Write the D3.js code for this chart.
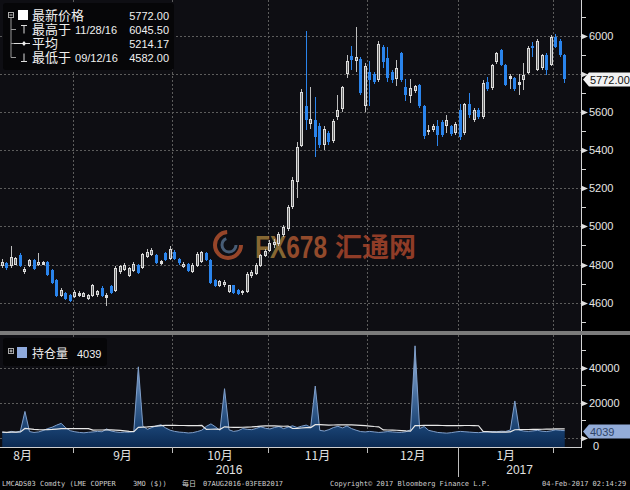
<!DOCTYPE html>
<html><head><meta charset="utf-8">
<script src="https://cdn.jsdelivr.net/npm/d3@7"></script>
<style>
html,body{margin:0;padding:0;background:#000;}
svg{display:block;}
</style></head><body>
<svg id="c" width="630" height="490"></svg>
<script>
// ---------- DATA ----------
const opens = [4790,4808,4790,4800,4850,4760,4790,4825,4795,4800,4815,4770,4720,4635,4650,4640,
 4632,4635,4632,4618,4635,4638,4675,4625,4685,4660,4760,4770,4740,4765,4800,4780,4840,4850,4850,4805,4860,4830,
 4868,4830,4785,4805,4760,4790,4815,4860,4825,4720,4685,4690,4655,4690,4665,4648,4655,4738,4750,4790,4845,
 4870,4900,4910,4955,4985,5100,5235,5420,5630,5540,5560,5530,5430,5490,5450,5575,5615,5800,5895,5870,5880,5630,
 5810,5800,5770,5940,5885,5810,5775,5910,5730,5685,5710,5745,5635,5495,5505,5530,5550,5525,5525,5490,
 5610,5490,5645,5560,5610,5575,5760,5725,5865,5925,5850,5775,5780,5745,5770,5805,5950,5820,5830,5900,5850,
 5995,5975,5900];
const highs = [4830,4812,4895,4840,4860,4785,4830,4830,4860,4820,4820,4775,4725,4675,4655,4645,
 4665,4660,4658,4645,4700,4668,4685,4650,4690,4790,4800,4810,4785,4812,4805,4862,4880,4885,4855,4825,4865,4895,
 4875,4835,4815,4810,4810,4865,4870,4865,4830,4725,4720,4720,4695,4695,4670,4668,4760,4770,4810,4855,4880,
 4930,4935,4970,5010,5110,5260,5445,5720,6025,5730,5680,5545,5530,5500,5565,5690,5740,5900,5950,6045.5,5890,5860,
 5870,5810,5975,5955,5940,5820,5875,5915,5775,5775,5745,5750,5640,5535,5540,5560,5560,5585,5535,5550,
 5645,5650,5700,5620,5620,5770,5785,5855,5915,5930,5855,5800,5785,5800,5860,5945,5970,5985,5905,5910,6005,
 6010,5985,5905];
const lows = [4780,4770,4780,4795,4785,4750,4785,4770,4790,4795,4740,4700,4630,4630,4612,4605,
 4625,4630,4628,4612,4630,4630,4630,4582,4645,4655,4750,4765,4735,4760,4750,4775,4835,4845,4805,4800,4820,4825,
 4825,4800,4780,4760,4755,4785,4810,4820,4700,4680,4680,4680,4650,4645,4640,4642,4650,4730,4745,4785,4840,
 4865,4885,4895,4945,4975,5090,5150,5415,5505,5510,5365,5410,5400,5430,5440,5560,5600,5780,5820,5810,5690,5600,
 5630,5750,5760,5830,5760,5755,5740,5760,5660,5650,5700,5620,5460,5480,5495,5420,5470,5490,5475,5480,
 5455,5480,5570,5550,5565,5565,5710,5715,5855,5840,5735,5720,5710,5690,5715,5800,5890,5815,5820,5795,5840,
 5935,5890,5755];
const closes = [4815,4782,4840,4832,4790,4778,4822,4775,4815,4812,4745,4705,4635,4665,4620,4610,
 4658,4650,4650,4640,4690,4660,4635,4640,4650,4780,4790,4800,4780,4805,4755,4855,4868,4875,4810,4818,4825,4880,
 4830,4810,4805,4765,4800,4855,4865,4825,4705,4685,4715,4710,4690,4650,4645,4662,4750,4762,4800,4850,4870,
 4915,4920,4960,4995,5100,5245,5415,5705,5560,5565,5470,5430,5510,5445,5555,5610,5730,5870,5875,5890,5700,5840,
 5770,5760,5960,5865,5780,5770,5830,5770,5690,5725,5735,5630,5475,5505,5530,5480,5480,5560,5485,5540,
 5470,5645,5585,5610,5575,5755,5720,5850,5910,5850,5745,5790,5720,5760,5795,5935,5935,5975,5900,5820,5995,
 5940,5900,5772];
const openInterest = [3200,2900,3600,3100,3800,15000,3500,3000,3300,4100,5200,6000,7200,8200,5600,4000,
 3400,3000,2800,3100,3300,3600,3400,5000,3800,3300,3000,3200,3100,3600,40500,6500,4800,5800,6800,7400,5600,4300,
 3600,3200,3000,2700,2900,3500,4300,6500,7900,6200,4200,28000,4500,3600,4000,5200,4800,4600,5300,6200,5400,
 5000,5800,6400,5200,6000,6800,5800,6600,7200,6000,29500,4200,3800,4600,5800,6500,5600,6700,5200,4300,3500,3300,
 3600,3300,3000,3200,3500,3300,3100,3000,3400,4500,52500,5200,6400,4200,3600,3000,2800,2600,2900,3300,
 3600,3400,3200,3000,2900,3100,3300,3500,3400,3700,3600,4400,21000,4300,3800,3600,3900,4200,3700,3500,3900,
 4500,4200,4039];
const monthStarts = [-6,16,38,59,81,101,122];
const monthLabels = ["8月","9月","10月","11月","12月","1月"];
const yearLabels = ["2016","2017"];
const yearStarts = [0,101];
const priceTicks = [4600,4800,5000,5200,5400,5600,5800,6000];
const oiTicks = [0,20000,40000];
const legendLabels = ["最新价格","最高于","平均","最低于"];
const legendDates = ["","11/28/16","","09/12/16"];
const legendValues = ["5772.00","6045.50","5214.17","4582.00"];
const oiLegend = ["持仓量","4039"];
const footer = ["LMCADS03 Comdty (LME COPPER","3MO ($))","每日","07AUG2016-03FEB2017","Copyright© 2017 Bloomberg Finance L.P.","04-Feb-2017 02:14:29"];

// ---------- LAYOUT ----------
const svg = d3.select("#c");
const plotR = 581, mainBot = 331, lowTop = 335, lowBot = 447;
const x = d3.scaleLinear().domain([0,125]).range([0,567]);
const y = d3.scaleLinear().domain([4451,6189]).range([mainBot,0]);
const y2 = d3.scaleLinear().domain([-5314,58686]).range([lowBot,lowTop]);
const cjk = "'Noto Sans CJK SC','Liberation Sans',sans-serif";
const sans = "'Liberation Sans','Noto Sans CJK SC',sans-serif";
const mono = "'DejaVu Sans Mono','Liberation Mono',monospace";

svg.append("rect").attr("width",630).attr("height",490).attr("fill","#000");
svg.append("rect").attr("x",0).attr("y",0).attr("width",plotR).attr("height",mainBot).attr("fill","#0e0e13");
svg.append("rect").attr("x",0).attr("y",lowTop).attr("width",plotR).attr("height",lowBot-lowTop).attr("fill","#0e0e13");

// grid
const grid = svg.append("g").attr("stroke","#5c5c5c").attr("stroke-dasharray","2,2").attr("stroke-width",1);
grid.selectAll("line.h").data(priceTicks).join("line")
  .attr("x1",0).attr("x2",plotR).attr("y1",d=>Math.round(y(d))+0.5).attr("y2",d=>Math.round(y(d))+0.5);
grid.selectAll("line.h2").data(oiTicks).join("line")
  .attr("x1",0).attr("x2",plotR).attr("y1",d=>Math.round(y2(d))+0.5).attr("y2",d=>Math.round(y2(d))+0.5);
grid.selectAll("line.v").data(monthStarts.slice(1)).join("line")
  .attr("x1",d=>Math.round(x(d))+0.5).attr("x2",d=>Math.round(x(d))+0.5).attr("y1",0).attr("y2",mainBot);
grid.selectAll("line.v2").data(monthStarts.slice(1)).join("line")
  .attr("x1",d=>Math.round(x(d))+0.5).attr("x2",d=>Math.round(x(d))+0.5).attr("y1",lowTop).attr("y2",lowBot);

// watermark
const wm = svg.append("g").attr("opacity",0.8);
wm.append("circle").attr("cx",228).attr("cy",245).attr("r",13).attr("fill","none")
  .attr("stroke","#b8532f").attr("stroke-width",4).attr("stroke-dasharray","60,22");
wm.append("circle").attr("cx",229).attr("cy",245).attr("r",7).attr("fill","none")
  .attr("stroke","#56708e").attr("stroke-width",3).attr("stroke-dasharray","30,14");
const wt = wm.append("text").attr("x",255).attr("y",258).attr("font-family",sans).attr("font-weight","bold")
  .attr("font-size",31).attr("textLength",72).attr("lengthAdjust","spacingAndGlyphs");
wt.append("tspan").attr("fill","#a47e3a").text("FX");
wt.append("tspan").attr("fill","#b45a32").text("678");
wm.append("text").attr("x",335).attr("y",257).attr("font-family",cjk).attr("font-weight","bold")
  .attr("font-size",27).attr("fill","#b0482c").text("汇通网");

// candles
const data = closes.map((c,i)=>({i,o:opens[i],h:highs[i],l:lows[i],c}));
const up = "#dcdcdc", down = "#2a84ec";
const cg = svg.append("g");
const cx = d=>Math.floor(x(d.i+0.5));
cg.selectAll("rect.w").data(data).join("rect")
  .attr("x",d=>cx(d)).attr("width",1)
  .attr("y",d=>Math.round(y(d.h))).attr("height",d=>Math.max(1,Math.round(y(d.l))-Math.round(y(d.h))))
  .attr("fill",d=>d.c>=d.o?"#bdbdbd":down);
cg.selectAll("rect.b").data(data).join("rect")
  .attr("x",d=>cx(d)-1).attr("width",3)
  .attr("y",d=>Math.round(y(Math.max(d.o,d.c))))
  .attr("height",d=>Math.max(1,Math.round(y(Math.min(d.o,d.c)))-Math.round(y(Math.max(d.o,d.c)))))
  .attr("fill",d=>d.c>=d.o?up:down);
cg.selectAll("rect.in").data(data.filter(d=>d.c>=d.o && (y(d.o)-y(d.c))>3)).join("rect")
  .attr("x",d=>cx(d)).attr("width",1)
  .attr("y",d=>Math.round(y(d.c))+1)
  .attr("height",d=>Math.round(y(d.o))-Math.round(y(d.c))-2)
  .attr("fill","#6a6a6a");

// open interest
const defs = svg.append("defs");
const lg = defs.append("linearGradient").attr("id","oig").attr("gradientUnits","userSpaceOnUse")
  .attr("x1",0).attr("x2",0).attr("y1",lowTop+8).attr("y2",lowBot);
lg.append("stop").attr("offset","0").attr("stop-color","#a9c3e8");
lg.append("stop").attr("offset","0.55").attr("stop-color","#3d6596");
lg.append("stop").attr("offset","0.85").attr("stop-color","#163d6c");
lg.append("stop").attr("offset","1").attr("stop-color","#0c2a52");
const oiData = openInterest.map((v,i)=>({i,v}));
svg.append("path").datum(oiData)
  .attr("d",d3.area().x(d=>x(d.i+0.5)).y0(lowBot).y1(d=>y2(d.v)))
  .attr("fill","url(#oig)");
svg.append("path").datum(oiData)
  .attr("d",d3.line().x(d=>x(d.i+0.5)).y(d=>y2(d.v)))
  .attr("fill","none").attr("stroke","#7f9fcb").attr("stroke-width",1);
const maN = 15;
const ma = openInterest.map((v,i)=>({i,v:d3.mean(openInterest.slice(Math.max(0,i-maN+1),i+1))}));
svg.append("path").datum(ma)
  .attr("d",d3.line().x(d=>x(d.i+0.5)).y(d=>y2(d.v)))
  .attr("fill","none").attr("stroke","#e8e8e8").attr("stroke-width",1.2);

// separator and borders
svg.append("rect").attr("x",0).attr("y",mainBot).attr("width",630).attr("height",lowTop-mainBot).attr("fill","#7b7b7b");
svg.append("line").attr("x1",0).attr("x2",plotR+1).attr("y1",lowBot+0.5).attr("y2",lowBot+0.5).attr("stroke","#cfcfcf");
svg.append("line").attr("x1",plotR+0.5).attr("x2",plotR+0.5).attr("y1",0).attr("y2",mainBot).attr("stroke","#d6d6d6");
svg.append("line").attr("x1",plotR+0.5).attr("x2",plotR+0.5).attr("y1",lowTop).attr("y2",lowBot+1).attr("stroke","#d6d6d6");

// right axis main
const lastClose = closes[closes.length-1];
const yl = Math.round(y(lastClose))+0.5;
const ax = svg.append("g");
ax.selectAll("line.mn").data(d3.range(4500,6200,100).filter(v=>v%200!==0)).join("line")
  .attr("x1",plotR).attr("x2",plotR+5).attr("y1",d=>Math.round(y(d))+0.5).attr("y2",d=>Math.round(y(d))+0.5).attr("stroke","#d6d6d6");
ax.selectAll("path.mj").data(priceTicks).join("path")
  .attr("d",d=>{const t=Math.round(y(d))+0.5;return `M${plotR},${t-3}L${plotR+7},${t}L${plotR},${t+3}Z`;})
  .attr("fill","#e0e0e0");
ax.selectAll("text.pl").data(priceTicks.filter(d=>Math.abs(y(d)-yl)>12)).join("text")
  .attr("x",plotR+8).attr("y",d=>y(d)+4).attr("font-family",sans).attr("font-size",11).attr("fill","#e6e6e6")
  .text(d=>d);
// last price box
ax.append("path").attr("d",`M${plotR+2},${yl}L${plotR+8},${yl-7}L630,${yl-7}L630,${yl+7}L${plotR+8},${yl+7}Z`)
  .attr("fill","#f2f2f2");
ax.append("text").attr("x",plotR+9).attr("y",yl+4).attr("font-family",sans).attr("font-size",11).attr("fill","#111")
  .text(legendValues[0]);

// right axis lower
ax.selectAll("line.mn2").data([10000,30000,50000]).join("line")
  .attr("x1",plotR).attr("x2",plotR+5).attr("y1",d=>Math.round(y2(d))+0.5).attr("y2",d=>Math.round(y2(d))+0.5).attr("stroke","#d6d6d6");
ax.selectAll("path.mj2").data(oiTicks).join("path")
  .attr("d",d=>{const t=Math.round(y2(d))+0.5;return `M${plotR},${t-3}L${plotR+7},${t}L${plotR},${t+3}Z`;})
  .attr("fill","#e0e0e0");
ax.selectAll("text.ol").data(oiTicks).join("text")
  .attr("x",d=>plotR+8+(d===0?4:0)).attr("y",d=>y2(d)+4+(d===0?8:0)).attr("font-family",sans).attr("font-size",11).attr("fill","#e6e6e6")
  .text(d=>d);
const yo = Math.round(y2(openInterest[openInterest.length-1]))+0.5;
ax.append("path").attr("d",`M${plotR+2},${yo}L${plotR+8},${yo-7}L630,${yo-7}L630,${yo+7}L${plotR+8},${yo+7}Z`)
  .attr("fill","#93acd8");
ax.append("text").attr("x",plotR+9).attr("y",yo+4).attr("font-family",sans).attr("font-size",11).attr("fill","#2f4468")
  .text(oiLegend[1]);

// bottom axis
const bx = svg.append("g");
bx.selectAll("line.mt").data(monthStarts.slice(1)).join("line")
  .attr("x1",d=>Math.round(x(d))+0.5).attr("x2",d=>Math.round(x(d))+0.5)
  .attr("y1",lowBot).attr("y2",d=>yearStarts.includes(d)?477:453).attr("stroke","#bdbdbd");
bx.selectAll("text.ml").data(monthLabels).join("text")
  .attr("x",(d,i)=>(x(monthStarts[i])+x(monthStarts[i+1]))/2).attr("y",460)
  .attr("text-anchor","middle").attr("font-family",cjk).attr("font-size",12).attr("fill","#e2e2e2").text(d=>d);
bx.selectAll("text.yl").data(yearLabels).join("text")
  .attr("x",(d,i)=>{const a=x(yearStarts[i]);const b=i+1<yearStarts.length?x(yearStarts[i+1]):plotR;return (a+b)/2;})
  .attr("y",474).attr("text-anchor","middle").attr("font-family",sans).attr("font-size",12).attr("fill","#e2e2e2").text(d=>d);

// footer
const fx = [2,133,182,203,330,542];
svg.selectAll("text.ft").data(footer).join("text")
  .attr("x",(d,i)=>fx[i]).attr("y",486)
  .attr("font-family",(d,i)=>i===2?cjk:mono).attr("font-size",7).attr("fill","#cfcfcf").text(d=>d);

// legend main
const lgd = svg.append("g");
lgd.append("rect").attr("x",3).attr("y",3).attr("width",171).attr("height",67).attr("rx",3).attr("fill","#060608");
const rowsY = [15,29.5,43.5,57.5];
lgd.append("rect").attr("x",8.5).attr("y",12.5).attr("width",5).attr("height",5).attr("fill","none").attr("stroke","#aaa");
lgd.append("line").attr("x1",9.5).attr("x2",12.5).attr("y1",15).attr("y2",15).attr("stroke","#ccc");
lgd.append("path").attr("d",`M11,18V${rowsY[3]}H16M11,${rowsY[1]}H16M11,${rowsY[2]}H14`).attr("fill","none").attr("stroke","#999");
lgd.append("rect").attr("x",18).attr("y",10).attr("width",10).attr("height",10).attr("fill","#fff");
lgd.append("path").attr("d",`M21,${rowsY[1]-4}H27M24,${rowsY[1]-4}V${rowsY[1]+4}`).attr("stroke","#ddd").attr("fill","none");
lgd.append("path").attr("d",`M14,${rowsY[2]}H30`).attr("stroke","#ddd");
lgd.append("path").attr("d",`M22,${rowsY[2]}L24,${rowsY[2]-2.5}L26,${rowsY[2]}L24,${rowsY[2]+2.5}Z`).attr("fill","#eee");
lgd.append("path").attr("d",`M24,${rowsY[3]-4}V${rowsY[3]+4}M21,${rowsY[3]+4}H27`).attr("stroke","#ddd").attr("fill","none");
const lt = lgd.selectAll("text.lg").data(legendLabels).join("text")
  .attr("x",32).attr("y",(d,i)=>rowsY[i]+4.5).attr("fill","#f0f0f0");
lt.append("tspan").attr("font-family",cjk).attr("font-size",13).text(d=>d);
lt.append("tspan").attr("font-family",sans).attr("font-size",11).attr("dx",4).text((d,i)=>legendDates[i]);
lgd.selectAll("text.lv").data(legendValues).join("text")
  .attr("x",169).attr("y",(d,i)=>rowsY[i]+4.5).attr("text-anchor","end")
  .attr("font-family",sans).attr("font-size",11).attr("fill","#f0f0f0").text(d=>d);

// legend lower
const l2 = svg.append("g");
l2.append("rect").attr("x",3).attr("y",338).attr("width",104).attr("height",28).attr("rx",3).attr("fill","#060608");
l2.append("rect").attr("x",8.5).attr("y",348.5).attr("width",5).attr("height",5).attr("fill","none").attr("stroke","#aaa");
l2.append("path").attr("d","M9.5,351H12.5M11,349.5V352.5").attr("stroke","#ccc");
l2.append("rect").attr("x",17).attr("y",347).attr("width",10).attr("height",11).attr("fill","#8ea9dc");
l2.append("text").attr("x",32).attr("y",357.5).attr("font-family",cjk).attr("font-size",12).attr("fill","#f0f0f0").text(oiLegend[0]);
l2.append("text").attr("x",77).attr("y",357.5).attr("font-family",sans).attr("font-size",11).attr("fill","#f0f0f0").text(oiLegend[1]);
</script>
</body></html>
